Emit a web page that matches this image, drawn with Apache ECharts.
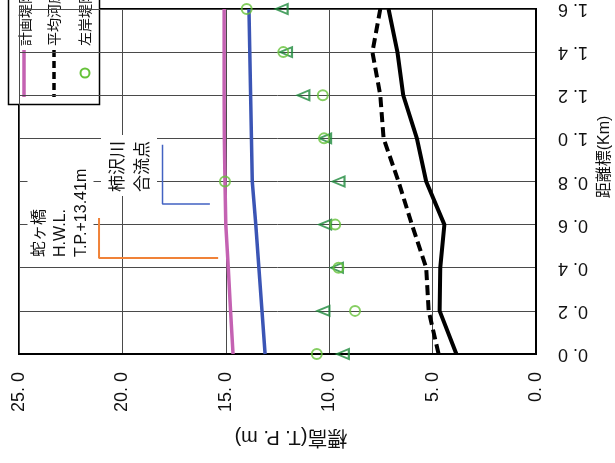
<!DOCTYPE html>
<html><head><meta charset="utf-8">
<script src="https://cdn.jsdelivr.net/npm/echarts@6/dist/echarts.min.js"></script>
<style>html,body{margin:0;padding:0;background:#fff}#c{width:615px;height:463px}</style>
</head><body><div id="c"></div>
<script>
// distance marks (km)
const distances   = [0.0, 0.2, 0.4, 0.6, 0.8, 1.0, 1.2, 1.4, 1.6];
// elevations (T.P. m)
const planLevee   = [14.65, 14.77, 14.88, 15.00, 15.04, 15.07, 15.08, 15.08, 15.08]; // 計画堤防高
const hwlLevel    = [13.10, 13.25, 13.40, 13.55, 13.72, 13.76, 13.80, 13.84, 13.88]; // 計画高水位
const avgBed      = [4.71, 5.19, 5.31, 6.00, 6.65, 7.37, 7.53, 7.91, 7.53];        // 平均河床高
const deepBed     = [3.85, 4.66, 4.63, 4.43, 5.31, 5.76, 6.42, 6.70, 7.13];        // 最深河床高
const leftLevee   = [10.60, 8.75, 9.55, 9.71, 15.04, 10.25, 10.31, 12.22, 13.99];  // 左岸堤防高
const rightLevee  = [9.34, 10.28, 9.63, 10.20, 9.55, 10.20, 11.25, 12.09, 12.30];  // 右岸堤防高
// tick labels
const elevTicks = [0, 5, 10, 15, 20, 25];
const distTicks = [0.0, 0.2, 0.4, 0.6, 0.8, 1.0, 1.2, 1.4, 1.6];
// annotation pointers [elevation, distance]
const bridgePointer = [[21.13, 0.631], [21.13, 0.445], [15.37, 0.445]];
const confluencePointer = [[18.06, 0.970], [18.06, 0.696], [15.77, 0.696]];

const pairs = arr => arr.map((v, i) => [v, distances[i]]);
const fmt = v => v.toFixed(1).replace('.', '. ');
const FONT = "'Liberation Sans', 'Noto Sans CJK JP', sans-serif";
const CJK = "'Noto Sans CJK JP', sans-serif";

const chart = echarts.init(document.getElementById('c'), null, {renderer: 'canvas'});
chart.setOption({
  animation: false,
  backgroundColor: '#fff',
  grid: {left: 19, right: 79, top: 4, bottom: 109, show: true, borderColor: '#000', borderWidth: 2, backgroundColor: 'transparent'},
  xAxis: {
    type: 'value', min: elevTicks[0], max: elevTicks[elevTicks.length - 1], interval: 5, inverse: true,
    position: 'bottom',
    axisLine: {show: true, lineStyle: {color: '#000', width: 2}},
    axisTick: {show: false},
    splitLine: {show: true, lineStyle: {color: '#4a4a4a', width: 1}},
    axisLabel: {rotate: 90, margin: 18, fontSize: 18, color: '#111', fontFamily: FONT, formatter: fmt}
  },
  yAxis: {
    type: 'value', min: distTicks[0], max: distTicks[distTicks.length - 1], interval: 0.2,
    position: 'right',
    axisLine: {show: true, lineStyle: {color: '#000', width: 2}},
    axisTick: {show: false},
    splitLine: {show: true, lineStyle: {color: '#4a4a4a', width: 1}},
    axisLabel: {rotate: 180, margin: 22, fontSize: 18, color: '#111', fontFamily: FONT, formatter: fmt, showMaxLabel: true}
  },
  series: [
    {name: '計画堤防高', type: 'line', data: pairs(planLevee), symbol: 'none', lineStyle: {color: '#C462B2', width: 3.5}, z: 3},
    {name: '計画高水位', type: 'line', data: pairs(hwlLevel), symbol: 'none', lineStyle: {color: '#3B55B5', width: 3.5}, z: 3},
    {name: '平均河床高', type: 'line', data: pairs(avgBed), symbol: 'none', lineStyle: {color: '#000', width: 4, type: [10, 5]}, z: 3},
    {name: '最深河床高', type: 'line', data: pairs(deepBed), symbol: 'none', lineStyle: {color: '#000', width: 4}, z: 3},
    {name: '蛇ヶ橋', type: 'line', data: bridgePointer, symbol: 'none', lineStyle: {color: '#F08238', width: 2}, z: 2},
    {name: '柿沢川合流点', type: 'line', data: confluencePointer, symbol: 'none', lineStyle: {color: '#4262C2', width: 1.5}, z: 2},
    {name: '右岸堤防高', type: 'scatter', data: pairs(rightLevee), symbol: 'triangle', symbolRotate: 90, symbolSize: [10, 12],
     itemStyle: {color: 'transparent', borderColor: '#1E8A3C', borderWidth: 2}, z: 5},
    {name: '左岸堤防高', type: 'scatter', data: pairs(leftLevee), symbol: 'circle', symbolSize: 10,
     itemStyle: {color: 'transparent', borderColor: '#66C23A', borderWidth: 2}, z: 6}
  ],
  graphic: [
    // annotation texts
    {type: 'text', x: 60.5, y: 258, rotation: Math.PI / 2, z: 10,
     style: {text: '蛇ヶ橋\nH.W.L.\nT.P.+13.41m', fontSize: 16, lineHeight: 21, fontFamily: FONT, fill: '#111',
             align: 'left', verticalAlign: 'middle', backgroundColor: '#fff', padding: [1, 4, 2, 1]}},
    {type: 'text', x: 129, y: 196, rotation: Math.PI / 2, z: 10,
     style: {text: '柿沢川\n合流点', fontSize: 17, lineHeight: 25, fontFamily: CJK, fill: '#111',
             align: 'left', verticalAlign: 'middle', backgroundColor: '#fff', padding: [4, 6, 2, 4]}},
    // axis titles
    {type: 'text', x: 291, y: 437, rotation: Math.PI, z: 10,
     style: {text: '標高(T. P. m)', fontSize: 20, fontFamily: FONT, fill: '#111', align: 'center', verticalAlign: 'middle'}},
    {type: 'text', x: 605, y: 157, rotation: Math.PI / 2, z: 10,
     style: {text: '距離標(Km)', fontSize: 16, fontFamily: FONT, fill: '#111', align: 'center', verticalAlign: 'middle'}},
    // legend (partly outside the picture)
    {type: 'group', z: 20, children: [
      {type: 'rect', shape: {x: 8.5, y: -20, width: 91, height: 124.5}, style: {fill: '#fff', stroke: '#000', lineWidth: 1.5}},
      {type: 'line', shape: {x1: 24, y1: 50, x2: 24, y2: 97}, style: {stroke: '#C462B2', lineWidth: 3.5}},
      {type: 'line', shape: {x1: 54, y1: 50, x2: 54, y2: 97}, style: {stroke: '#000', lineWidth: 3.5, lineDash: [7, 4]}},
      {type: 'circle', shape: {cx: 85, cy: 73, r: 4.5}, style: {fill: 'transparent', stroke: '#66C23A', lineWidth: 2}},
      {type: 'text', x: 25, y: 46, rotation: Math.PI / 2, style: {text: '計画堤防高', fontSize: 14, fontFamily: CJK, fill: '#111', align: 'left', verticalAlign: 'middle'}},
      {type: 'text', x: 54, y: 46, rotation: Math.PI / 2, style: {text: '平均河床高', fontSize: 14, fontFamily: CJK, fill: '#111', align: 'left', verticalAlign: 'middle'}},
      {type: 'text', x: 85, y: 46, rotation: Math.PI / 2, style: {text: '左岸堤防高', fontSize: 14, fontFamily: CJK, fill: '#111', align: 'left', verticalAlign: 'middle'}}
    ]}
  ]
});
</script></body></html>
